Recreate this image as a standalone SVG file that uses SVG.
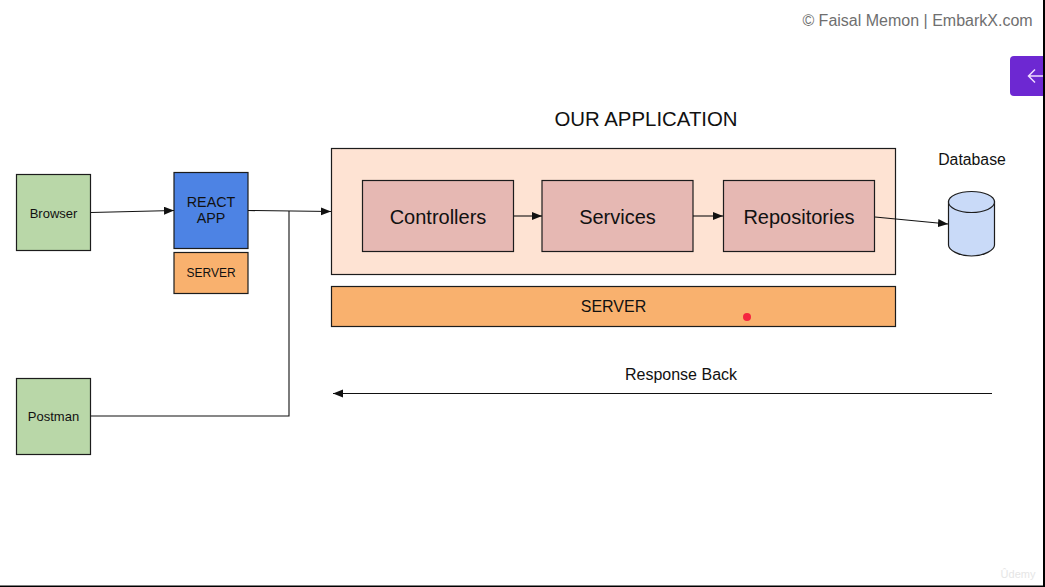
<svg xmlns="http://www.w3.org/2000/svg" width="1045" height="587" viewBox="0 0 1045 587">
<style>
text{font-family:"Liberation Sans",Arial,sans-serif;fill:#111;text-anchor:middle}
.b{stroke:#1c1c1c;stroke-width:1.2}
.c{fill:none;stroke:#111;stroke-width:1.1}
.g{fill:#b9d7a8}
.o{fill:#f9b16e}
.p{fill:#e6b8b3}
</style>
<defs>
<marker id="a" markerUnits="userSpaceOnUse" markerWidth="12" markerHeight="10" refX="10" refY="4" orient="auto"><path d="M0 0L10 4L0 8Z" fill="#111"/></marker>
</defs>
<rect width="1045" height="587" fill="#fff"/>
<g id="frame"><rect x="1043" y="0" width="2" height="587" fill="#000"/><rect x="0" y="585.500" width="1045" height="1.500" fill="#000"/></g>
<g id="watermark"><text x="917.500" y="26" font-size="16" style="fill:#6f6f6f">© Faisal Memon | EmbarkX.com</text></g>
<g id="back-tab"><path d="M1043 56H1014a4 4 0 0 0-4 4V92a4 4 0 0 0 4 4H1043Z" fill="#6d28d2"/><path d="M1043 76H1029M1035 69.500L1028.500 76L1035 82.500" fill="none" stroke="#f0dcff" stroke-width="1.500"/></g>
<g id="title"><text x="646" y="126" font-size="20.400">OUR APPLICATION</text></g>
<g id="app-box"><rect class="b" x="331.500" y="148.500" width="564" height="126" fill="#fee3d3"/></g>
<g id="browser"><rect class="b g" x="16.500" y="174.500" width="74" height="76"/><text x="53.500" y="217.500" font-size="13">Browser</text></g>
<g id="react-app"><rect class="b" x="174" y="172.500" width="74" height="76" fill="#4d83e4"/><text x="211" y="207" font-size="14.300">REACT</text><text x="211" y="223" font-size="14.300">APP</text></g>
<g id="react-server"><rect class="b o" x="174" y="252.500" width="74" height="41"/><text x="211" y="277" font-size="12">SERVER</text></g>
<g id="postman"><rect class="b g" x="16.500" y="378.500" width="74" height="76"/><text x="53.500" y="421" font-size="13">Postman</text></g>
<g id="controllers"><rect class="b p" x="362.500" y="180.500" width="151" height="71"/><text x="438" y="223.500" font-size="20">Controllers</text></g>
<g id="services"><rect class="b p" x="542" y="180.500" width="151" height="71"/><text x="617.500" y="223.500" font-size="20">Services</text></g>
<g id="repositories"><rect class="b p" x="723.500" y="180.500" width="151" height="71"/><text x="799" y="223.500" font-size="20">Repositories</text></g>
<g id="server"><rect class="b o" x="331.500" y="286.500" width="564" height="40"/><text x="613.500" y="312" font-size="16">SERVER</text></g>
<g id="database"><text x="972" y="165" font-size="15.800">Database</text><path d="M948.500 201.500V245c0 5 10.300 11 23 11s23-6 23-11V201.500Z" fill="#c9daf8" stroke="#1c1c1c" stroke-width="1.200"/><ellipse cx="971.500" cy="202" rx="23" ry="10.500" fill="#c9daf8" stroke="#1c1c1c" stroke-width="1.200"/></g>
<g id="pointer"><circle cx="747" cy="317" r="4" fill="#f5263f"/></g>
<g id="response-label"><text x="681" y="380" font-size="16">Response Back</text></g>
<g id="connectors">
<path class="c" marker-end="url(#a)" d="M91 212.500L174 210.500"/>
<path class="c" marker-end="url(#a)" d="M248 210.500L331 211.500"/>
<path class="c" d="M91 416H289V211"/>
<path class="c" marker-end="url(#a)" d="M514 216H542"/>
<path class="c" marker-end="url(#a)" d="M693 216H723"/>
<path class="c" marker-end="url(#a)" d="M875 217L948 224"/>
<path class="c" marker-end="url(#a)" d="M992 393.500H333"/>
</g>
<g id="udemy"><text x="1018" y="578" font-size="11" style="fill:#e6e6e6">Ûdemy</text></g>
</svg>
